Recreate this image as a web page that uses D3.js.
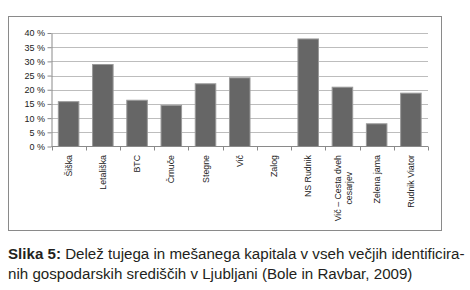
<!DOCTYPE html>
<html>
<head>
<meta charset="utf-8">
<script src="https://cdn.jsdelivr.net/npm/d3@7"></script>
<style>
  body { margin: 0; background: #fff; }
  svg { display: block; }
  text { font-family: "Liberation Sans", Arial, sans-serif; }
</style>
</head>
<body>
<svg width="470" height="290"></svg>
<script>
const categories = ["Šiška", "Letališka", "BTC", "Črnuče", "Stegne", "Vič", "Zalog",
  "NS Rudnik", "Vič – Cesta dveh cesarjev", "Zelena jama", "Rudnik Viator"];
const values = [15.8, 28.9, 16.3, 14.5, 22.1, 24.2, 0, 37.9, 20.9, 8.0, 18.8];
const yTicks = [0, 5, 10, 15, 20, 25, 30, 35, 40];
const captionLines = [
  ["Slika 5:", " Delež tujega in mešanega kapitala v vseh večjih identificira-"],
  ["", "nih gospodarskih središčih v Ljubljani (Bole in Ravbar, 2009)"]
];

const svg = d3.select("svg");
const margin = { left: 51.5, right: 428, top: 33, bottom: 146.5 };

// frame around the chart
svg.append("rect")
  .attr("x", 8.5).attr("y", 16.5)
  .attr("width", 433).attr("height", 214)
  .attr("fill", "none").attr("stroke", "#8a8a8a");

const x = d3.scaleBand()
  .domain(categories)
  .range([margin.left, margin.right])
  .paddingInner(0.4).paddingOuter(0.2);

const y = d3.scaleLinear().domain([0, 40]).range([margin.bottom, margin.top]);

// grid
svg.append("g")
  .selectAll("line")
  .data(yTicks.filter(d => d > 0))
  .join("line")
  .attr("x1", margin.left).attr("x2", margin.right)
  .attr("y1", d => Math.round(y(d)) + 0.5).attr("y2", d => Math.round(y(d)) + 0.5)
  .attr("stroke", "#bdbdbd");

// bars
svg.append("g")
  .selectAll("rect")
  .data(values)
  .join("rect")
  .attr("x", (d, i) => x(categories[i]))
  .attr("width", x.bandwidth())
  .attr("y", d => y(d))
  .attr("height", d => y(0) - y(d))
  .attr("fill", d => d > 0 ? "#666" : "none")
  .attr("stroke", d => d > 0 ? "#9a9a9a" : "none")
  .attr("stroke-width", 1);

// y axis
const yAxis = svg.append("g")
  .attr("transform", `translate(${margin.left},0)`)
  .call(d3.axisLeft(y).tickValues(yTicks).tickFormat(d => d + " %").tickSize(4).tickSizeOuter(0));
yAxis.select(".domain").attr("stroke", "#8a8a8a");
yAxis.selectAll(".tick line").attr("stroke", "#8a8a8a");
yAxis.selectAll(".tick text").attr("fill", "#222").attr("font-size", 9)
  .attr("x", -6.5)
  .style("font-family", '"Liberation Sans", sans-serif');

// x axis line and ticks between categories
const bounds = d3.range(categories.length + 1).map(i => margin.left + (margin.right - margin.left) * i / categories.length);
svg.append("line")
  .attr("x1", margin.left).attr("x2", margin.right)
  .attr("y1", y(0)).attr("y2", y(0))
  .attr("stroke", "#8a8a8a");
svg.append("g")
  .selectAll("line")
  .data(bounds)
  .join("line")
  .attr("x1", d => Math.round(d) + 0.5).attr("x2", d => Math.round(d) + 0.5)
  .attr("y1", y(0)).attr("y2", y(0) + 4)
  .attr("stroke", "#8a8a8a");

// rotated category labels
const labels = svg.append("g").attr("font-size", 8.8).attr("fill", "#222");
categories.forEach((c, i) => {
  const cx = x(c) + x.bandwidth() / 2;
  const g = labels.append("g")
    .attr("transform", `translate(${cx},${y(0) + 8.5}) rotate(-90)`);
  if (c.startsWith("Vič – Cesta")) {
    const t1 = g.append("text").attr("text-anchor", "end").attr("dy", "-0.15em").text("Vič – Cesta dveh");
    const w = t1.node().getComputedTextLength();
    g.append("text").attr("text-anchor", "middle").attr("x", -w / 2).attr("dy", "1.1em").text("cesarjev");
  } else {
    g.append("text").attr("text-anchor", "end").attr("dy", "0.35em").text(c);
  }
});

// caption
const cap = svg.append("g").attr("font-size", 14).attr("fill", "#231f20");
const capTexts = captionLines.map((ln, i) => {
  const t = cap.append("text").attr("x", 8).attr("y", 259 + i * 19.5);
  if (ln[0]) t.append("tspan").attr("font-weight", "bold").text(ln[0]);
  t.append("tspan").text(ln[1]);
  return t;
});
// fit the first line to the printed width
const w0 = capTexts[0].node().getComputedTextLength();
cap.attr("font-size", 14 * 457 / w0);
</script>
</body>
</html>
